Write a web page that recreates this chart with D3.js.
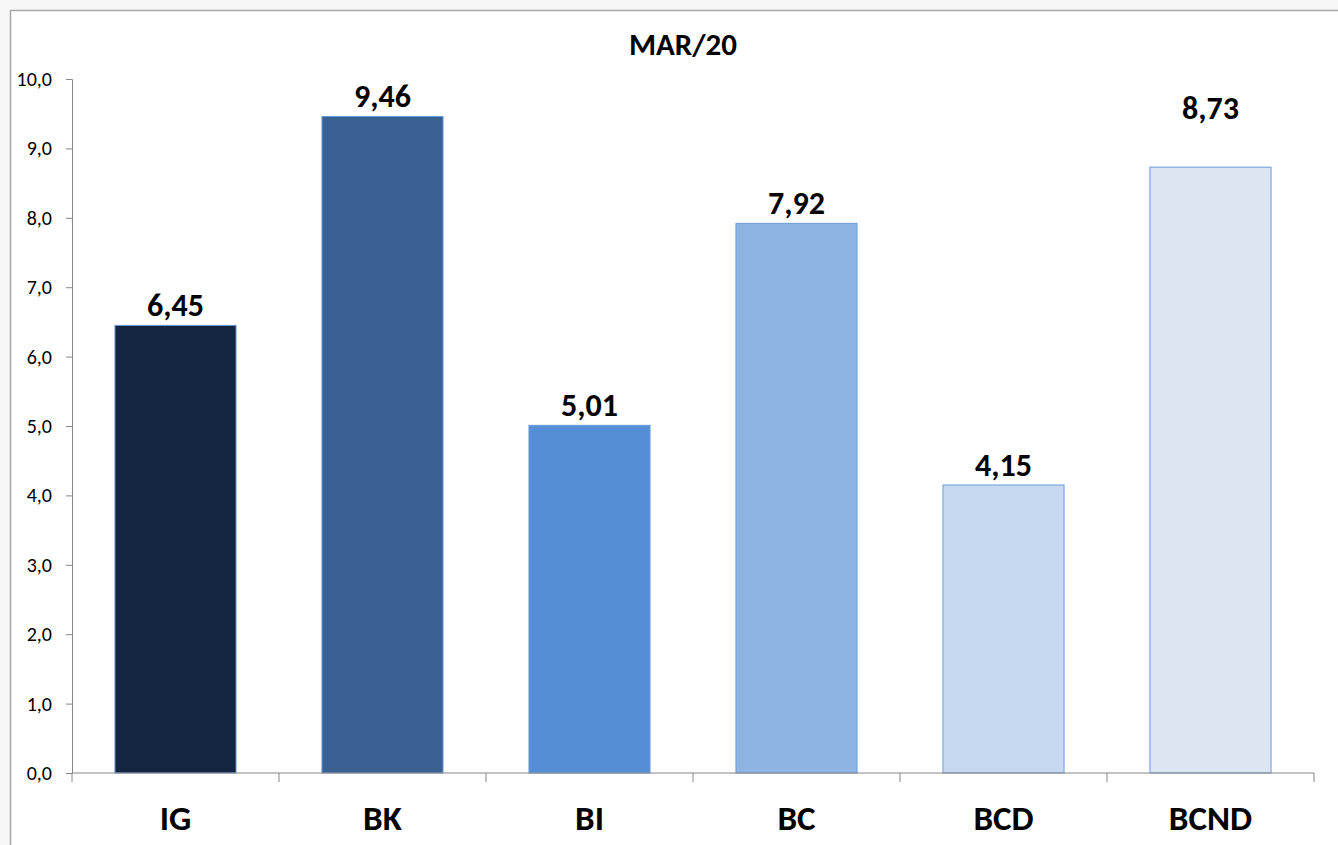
<!DOCTYPE html>
<html>
<head>
<meta charset="utf-8">
<script src="https://cdn.jsdelivr.net/npm/d3@7"></script>
<style>
  html, body { margin: 0; padding: 0; background: #f7f7f7; }
  svg { display: block; font-family: Carlito, Lato, "Open Sans", sans-serif; }
</style>
</head>
<body>
<div id="svg-container"></div>
<script>
// chart data
const categories = ['IG', 'BK', 'BI', 'BC', 'BCD', 'BCND'];
const values = [6.45, 9.46, 5.01, 7.92, 4.15, 8.73];
const yTicks = [0, 1, 2, 3, 4, 5, 6, 7, 8, 9, 10];
const chartTitle = 'MAR/20';

const barColors = ['#14253f', '#386090', '#558ed5', '#8eb4e3', '#c6d9f1', '#dce6f2'];

const W = 1338, H = 845;
const margin = { top: 79, left: 72, right: 24, bottom: 72 };
const width = W - margin.left - margin.right;
const height = H - margin.top - margin.bottom;

// the BCND label sits higher in the original
const labelLift = { BCND: 39 };

const fmt = d => d3.format('.1f')(d).replace('.', ',');
const fmt2 = d => d3.format('.2f')(d).replace('.', ',');

const svg = d3.select('#svg-container')
    .append('svg')
    .attr('width', W)
    .attr('height', H);

// chart area frame
svg.append('rect')
    .attr('x', 10.5).attr('y', 10.5)
    .attr('width', W + 20).attr('height', H + 20)
    .attr('fill', '#fff')
    .attr('stroke', '#a6a6a6')
    .attr('stroke-width', 1.5);

svg.append('text')
    .attr('x', 683).attr('y', 55)
    .attr('text-anchor', 'middle')
    .style('font-size', '31px')
    .style('font-weight', 'bold')
    .text(chartTitle);

const chart = svg.append('g')
    .attr('transform', `translate(${margin.left},${margin.top})`);

const x = d3.scaleBand()
    .domain(categories)
    .range([0, width])
    .paddingInner(0.415)
    .paddingOuter(0.2075);

const y = d3.scaleLinear().domain([0, 10]).range([height, 0]);

// y axis
const yAxis = chart.append('g')
    .attr('class', 'y-axis')
    .call(d3.axisLeft(y).tickValues(yTicks).tickFormat(fmt).tickSizeOuter(0).tickSize(6).tickPadding(14));
yAxis.select('.domain').attr('stroke', '#868686');
yAxis.selectAll('.tick line').attr('stroke', '#868686');
yAxis.selectAll('.tick text')
    .attr('fill', '#000')
    .style('font-size', '20px')
    .style('font-family', 'Carlito, Lato, "Open Sans", sans-serif');

// bars
chart.selectAll('rect.bar')
    .data(values)
    .enter()
    .append('rect')
    .attr('class', 'bar')
    .attr('x', (d, i) => x(categories[i]))
    .attr('y', d => y(d))
    .attr('width', x.bandwidth())
    .attr('height', d => height - y(d))
    .attr('fill', (d, i) => barColors[i])
    .attr('stroke', '#6a9bdc')
    .attr('stroke-width', 1);

// x axis with ticks between the categories
const xAxisG = chart.append('g')
    .attr('class', 'x-axis')
    .attr('transform', `translate(0,${height})`);
xAxisG.append('line')
    .attr('x1', 0).attr('x2', width)
    .attr('stroke', '#868686');
xAxisG.selectAll('line.sep')
    .data(d3.range(categories.length + 1))
    .enter()
    .append('line')
    .attr('class', 'sep')
    .attr('x1', i => i * x.step())
    .attr('x2', i => i * x.step())
    .attr('y1', 0).attr('y2', 9)
    .attr('stroke', '#868686');
xAxisG.selectAll('text.cat')
    .data(categories)
    .enter()
    .append('text')
    .attr('class', 'cat')
    .attr('x', d => x(d) + x.bandwidth() / 2)
    .attr('y', 57)
    .attr('text-anchor', 'middle')
    .style('font-size', '35px')
    .style('font-weight', 'bold')
    .text(d => d);

// value labels
chart.selectAll('text.val')
    .data(values)
    .enter()
    .append('text')
    .attr('class', 'val')
    .attr('x', (d, i) => x(categories[i]) + x.bandwidth() / 2)
    .attr('y', (d, i) => y(d) - 9 - (labelLift[categories[i]] || 0))
    .attr('text-anchor', 'middle')
    .style('font-size', '32px')
    .style('font-weight', 'bold')
    .text(d => fmt2(d));
</script>
</body>
</html>
